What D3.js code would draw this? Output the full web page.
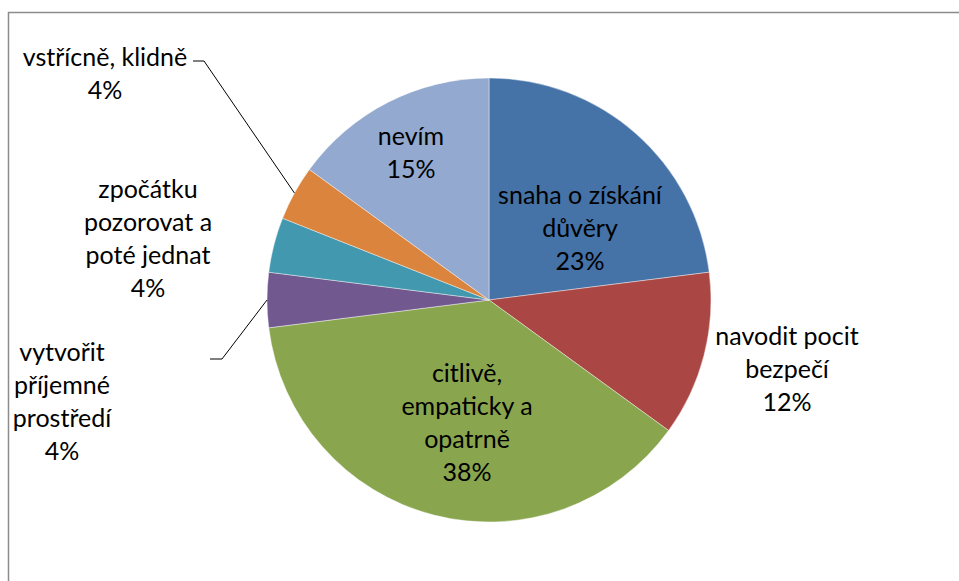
<!DOCTYPE html>
<html>
<head>
<meta charset="utf-8">
<script src="https://cdn.jsdelivr.net/npm/d3@7"></script>
<style>
  html, body { margin: 0; padding: 0; background: #fff; }
  svg { display: block; }
  text { font-family: Lato, "Open Sans", sans-serif; font-size: 25px; fill: #000; }
</style>
</head>
<body>
<svg id="chart" width="959" height="581"></svg>
<script>
// Answer categories (clockwise from 12 o'clock)
const categories = [
  "snaha o získání důvěry",
  "navodit pocit bezpečí",
  "citlivě, empaticky a opatrně",
  "vytvořit příjemné prostředí",
  "zpočátku pozorovat a poté jednat",
  "vstřícně, klidně",
  "nevím"
];
// Share of answers, percent
const values = [23, 12, 38, 4, 4, 4, 15];
// Label lines as drawn (category name wrapped)
const labelLines = [
  ["snaha o získání", "důvěry"],
  ["navodit pocit", "bezpečí"],
  ["citlivě,", "empaticky a", "opatrně"],
  ["vytvořit", "příjemné", "prostředí"],
  ["zpočátku", "pozorovat a", "poté jednat"],
  ["vstřícně, klidně"],
  ["nevím"]
];
const colors = ["#4572A7", "#AA4643", "#89A54E", "#71588F", "#4198AF", "#DB843D", "#93A9CF"];

// Layout
const cx = 489, cy = 300, R = 222;
const lineH = 33;
// label block centre (first line centre) relative to pie centre, and whether it gets a leader
const labelPos = [
  { x: 91,   y: -104, leader: false },
  { x: 298,  y: 37,   leader: false },
  { x: -22,  y: 74,   leader: false },
  { x: -427, y: 53,   leader: true, elbow: [-267, 59], end: [-279, 59] },
  { x: -341, y: -110, leader: false },
  { x: -384, y: -242, leader: true, elbow: [-285, -239], end: [-296, -239] },
  { x: -78,  y: -163, leader: false }
];

const svg = d3.select("#chart");

// frame
svg.append("rect")
  .attr("x", 8.5).attr("y", 12.5)
  .attr("width", 1000).attr("height", 1000)
  .attr("fill", "none")
  .attr("stroke", "#8c8c8c")
  .attr("stroke-width", 1.5);

const pie = d3.pie().sort(null).value(d => d)(values);
const arc = d3.arc().innerRadius(0).outerRadius(R);
const rim = d3.arc().innerRadius(R).outerRadius(R);

const g = svg.append("g").attr("transform", `translate(${cx},${cy})`);

g.selectAll("path.slice")
  .data(pie)
  .join("path")
  .attr("class", "slice")
  .attr("d", arc)
  .attr("fill", (d, i) => colors[i])
  .attr("stroke", "rgba(255,255,255,0.6)")
  .attr("stroke-width", 0.7);

// leader lines for small outside labels
pie.forEach((d, i) => {
  const p = labelPos[i];
  if (!p.leader) return;
  const [ax, ay] = rim.centroid(d);
  g.append("polyline")
    .attr("points", [[ax, ay], p.elbow, p.end].map(q => q.join(",")).join(" "))
    .attr("fill", "none")
    .attr("stroke", "#000")
    .attr("stroke-width", 1);
});

// labels
pie.forEach((d, i) => {
  const p = labelPos[i];
  const lines = labelLines[i].concat([d.data + "%"]);
  const t = g.append("text")
    .attr("text-anchor", "middle");
  lines.forEach((ln, k) => {
    t.append("tspan")
      .attr("x", p.x)
      .attr("y", p.y + k * lineH + 8)
      .text(ln);
  });
});
</script>
</body>
</html>
